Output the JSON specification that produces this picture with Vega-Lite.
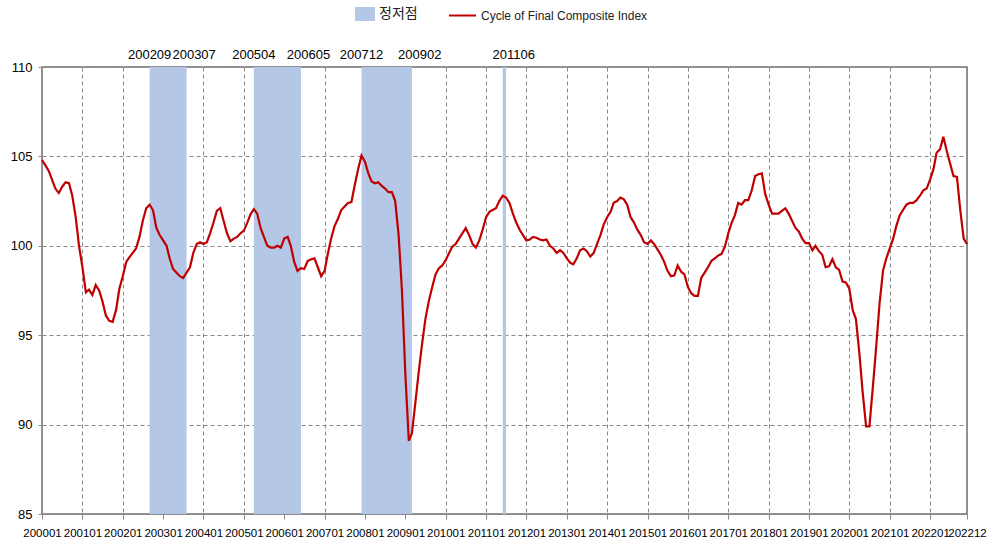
{
"$schema": "https://vega.github.io/schema/vega-lite/v6.json",
"width": 925, "height": 447,
"autosize": {"type": "none"},
"padding": {"left": 42, "top": 67, "right": 27, "bottom": 30},
"background": "white",
"config": {"view": {"stroke": "#707070", "strokeWidth": 1.5}, "font": "Liberation Sans"},
"datasets": {
"cycle": [
{"d":"2000-01-01","v":104.8},{"d":"2000-02-01","v":104.5},{"d":"2000-03-01","v":104.2},{"d":"2000-04-01","v":103.7},{"d":"2000-05-01","v":103.2},{"d":"2000-06-01","v":102.95},{"d":"2000-07-01","v":103.3},{"d":"2000-08-01","v":103.55},{"d":"2000-09-01","v":103.5},{"d":"2000-10-01","v":102.8},{"d":"2000-11-01","v":101.6},{"d":"2000-12-01","v":100.0},
{"d":"2001-01-01","v":98.8},{"d":"2001-02-01","v":97.4},{"d":"2001-03-01","v":97.55},{"d":"2001-04-01","v":97.25},{"d":"2001-05-01","v":97.8},{"d":"2001-06-01","v":97.5},{"d":"2001-07-01","v":96.9},{"d":"2001-08-01","v":96.1},{"d":"2001-09-01","v":95.8},{"d":"2001-10-01","v":95.75},{"d":"2001-11-01","v":96.4},{"d":"2001-12-01","v":97.6},
{"d":"2002-01-01","v":98.3},{"d":"2002-02-01","v":99.1},{"d":"2002-03-01","v":99.35},{"d":"2002-04-01","v":99.6},{"d":"2002-05-01","v":99.85},{"d":"2002-06-01","v":100.5},{"d":"2002-07-01","v":101.4},{"d":"2002-08-01","v":102.1},{"d":"2002-09-01","v":102.3},{"d":"2002-10-01","v":102.0},{"d":"2002-11-01","v":101.0},{"d":"2002-12-01","v":100.6},
{"d":"2003-01-01","v":100.3},{"d":"2003-02-01","v":100.0},{"d":"2003-03-01","v":99.3},{"d":"2003-04-01","v":98.7},{"d":"2003-05-01","v":98.5},{"d":"2003-06-01","v":98.3},{"d":"2003-07-01","v":98.2},{"d":"2003-08-01","v":98.5},{"d":"2003-09-01","v":98.8},{"d":"2003-10-01","v":99.6},{"d":"2003-11-01","v":100.1},{"d":"2003-12-01","v":100.2},
{"d":"2004-01-01","v":100.1},{"d":"2004-02-01","v":100.2},{"d":"2004-03-01","v":100.7},{"d":"2004-04-01","v":101.3},{"d":"2004-05-01","v":101.95},{"d":"2004-06-01","v":102.1},{"d":"2004-07-01","v":101.4},{"d":"2004-08-01","v":100.7},{"d":"2004-09-01","v":100.25},{"d":"2004-10-01","v":100.4},{"d":"2004-11-01","v":100.5},{"d":"2004-12-01","v":100.7},
{"d":"2005-01-01","v":100.85},{"d":"2005-02-01","v":101.3},{"d":"2005-03-01","v":101.75},{"d":"2005-04-01","v":102.05},{"d":"2005-05-01","v":101.8},{"d":"2005-06-01","v":101.0},{"d":"2005-07-01","v":100.5},{"d":"2005-08-01","v":100.0},{"d":"2005-09-01","v":99.9},{"d":"2005-10-01","v":99.9},{"d":"2005-11-01","v":100.0},{"d":"2005-12-01","v":99.9},
{"d":"2006-01-01","v":100.4},{"d":"2006-02-01","v":100.5},{"d":"2006-03-01","v":100.0},{"d":"2006-04-01","v":99.1},{"d":"2006-05-01","v":98.6},{"d":"2006-06-01","v":98.75},{"d":"2006-07-01","v":98.7},{"d":"2006-08-01","v":99.15},{"d":"2006-09-01","v":99.25},{"d":"2006-10-01","v":99.3},{"d":"2006-11-01","v":98.8},{"d":"2006-12-01","v":98.3},
{"d":"2007-01-01","v":98.6},{"d":"2007-02-01","v":99.6},{"d":"2007-03-01","v":100.4},{"d":"2007-04-01","v":101.1},{"d":"2007-05-01","v":101.5},{"d":"2007-06-01","v":102.0},{"d":"2007-07-01","v":102.2},{"d":"2007-08-01","v":102.4},{"d":"2007-09-01","v":102.45},{"d":"2007-10-01","v":103.4},{"d":"2007-11-01","v":104.3},{"d":"2007-12-01","v":105.05},
{"d":"2008-01-01","v":104.7},{"d":"2008-02-01","v":104.05},{"d":"2008-03-01","v":103.6},{"d":"2008-04-01","v":103.5},{"d":"2008-05-01","v":103.55},{"d":"2008-06-01","v":103.35},{"d":"2008-07-01","v":103.2},{"d":"2008-08-01","v":103.0},{"d":"2008-09-01","v":103.0},{"d":"2008-10-01","v":102.5},{"d":"2008-11-01","v":100.6},{"d":"2008-12-01","v":97.5},
{"d":"2009-01-01","v":92.8},{"d":"2009-02-01","v":89.1},{"d":"2009-03-01","v":89.5},{"d":"2009-04-01","v":91.2},{"d":"2009-05-01","v":92.9},{"d":"2009-06-01","v":94.5},{"d":"2009-07-01","v":95.9},{"d":"2009-08-01","v":96.9},{"d":"2009-09-01","v":97.7},{"d":"2009-10-01","v":98.4},{"d":"2009-11-01","v":98.75},{"d":"2009-12-01","v":98.9},
{"d":"2010-01-01","v":99.2},{"d":"2010-02-01","v":99.6},{"d":"2010-03-01","v":99.95},{"d":"2010-04-01","v":100.1},{"d":"2010-05-01","v":100.4},{"d":"2010-06-01","v":100.7},{"d":"2010-07-01","v":101.0},{"d":"2010-08-01","v":100.6},{"d":"2010-09-01","v":100.1},{"d":"2010-10-01","v":99.9},{"d":"2010-11-01","v":100.3},{"d":"2010-12-01","v":100.9},
{"d":"2011-01-01","v":101.6},{"d":"2011-02-01","v":101.9},{"d":"2011-03-01","v":102.0},{"d":"2011-04-01","v":102.1},{"d":"2011-05-01","v":102.5},{"d":"2011-06-01","v":102.8},{"d":"2011-07-01","v":102.7},{"d":"2011-08-01","v":102.4},{"d":"2011-09-01","v":101.8},{"d":"2011-10-01","v":101.3},{"d":"2011-11-01","v":100.9},{"d":"2011-12-01","v":100.6},
{"d":"2012-01-01","v":100.3},{"d":"2012-02-01","v":100.35},{"d":"2012-03-01","v":100.5},{"d":"2012-04-01","v":100.45},{"d":"2012-05-01","v":100.35},{"d":"2012-06-01","v":100.3},{"d":"2012-07-01","v":100.35},{"d":"2012-08-01","v":100.0},{"d":"2012-09-01","v":99.85},{"d":"2012-10-01","v":99.6},{"d":"2012-11-01","v":99.75},{"d":"2012-12-01","v":99.6},
{"d":"2013-01-01","v":99.3},{"d":"2013-02-01","v":99.05},{"d":"2013-03-01","v":98.97},{"d":"2013-04-01","v":99.3},{"d":"2013-05-01","v":99.75},{"d":"2013-06-01","v":99.85},{"d":"2013-07-01","v":99.7},{"d":"2013-08-01","v":99.4},{"d":"2013-09-01","v":99.6},{"d":"2013-10-01","v":100.1},{"d":"2013-11-01","v":100.6},{"d":"2013-12-01","v":101.2},
{"d":"2014-01-01","v":101.6},{"d":"2014-02-01","v":101.9},{"d":"2014-03-01","v":102.4},{"d":"2014-04-01","v":102.5},{"d":"2014-05-01","v":102.7},{"d":"2014-06-01","v":102.6},{"d":"2014-07-01","v":102.3},{"d":"2014-08-01","v":101.6},{"d":"2014-09-01","v":101.3},{"d":"2014-10-01","v":100.9},{"d":"2014-11-01","v":100.6},{"d":"2014-12-01","v":100.2},
{"d":"2015-01-01","v":100.1},{"d":"2015-02-01","v":100.3},{"d":"2015-03-01","v":100.1},{"d":"2015-04-01","v":99.8},{"d":"2015-05-01","v":99.5},{"d":"2015-06-01","v":99.1},{"d":"2015-07-01","v":98.6},{"d":"2015-08-01","v":98.3},{"d":"2015-09-01","v":98.35},{"d":"2015-10-01","v":98.9},{"d":"2015-11-01","v":98.55},{"d":"2015-12-01","v":98.4},
{"d":"2016-01-01","v":97.7},{"d":"2016-02-01","v":97.35},{"d":"2016-03-01","v":97.2},{"d":"2016-04-01","v":97.2},{"d":"2016-05-01","v":98.2},{"d":"2016-06-01","v":98.5},{"d":"2016-07-01","v":98.8},{"d":"2016-08-01","v":99.15},{"d":"2016-09-01","v":99.3},{"d":"2016-10-01","v":99.45},{"d":"2016-11-01","v":99.55},{"d":"2016-12-01","v":99.95},
{"d":"2017-01-01","v":100.7},{"d":"2017-02-01","v":101.3},{"d":"2017-03-01","v":101.7},{"d":"2017-04-01","v":102.4},{"d":"2017-05-01","v":102.3},{"d":"2017-06-01","v":102.55},{"d":"2017-07-01","v":102.55},{"d":"2017-08-01","v":103.1},{"d":"2017-09-01","v":103.9},{"d":"2017-10-01","v":104.0},{"d":"2017-11-01","v":104.05},{"d":"2017-12-01","v":102.9},
{"d":"2018-01-01","v":102.3},{"d":"2018-02-01","v":101.8},{"d":"2018-03-01","v":101.8},{"d":"2018-04-01","v":101.8},{"d":"2018-05-01","v":101.95},{"d":"2018-06-01","v":102.1},{"d":"2018-07-01","v":101.8},{"d":"2018-08-01","v":101.4},{"d":"2018-09-01","v":101.0},{"d":"2018-10-01","v":100.8},{"d":"2018-11-01","v":100.4},{"d":"2018-12-01","v":100.15},
{"d":"2019-01-01","v":100.15},{"d":"2019-02-01","v":99.75},{"d":"2019-03-01","v":100.0},{"d":"2019-04-01","v":99.7},{"d":"2019-05-01","v":99.5},{"d":"2019-06-01","v":98.8},{"d":"2019-07-01","v":98.85},{"d":"2019-08-01","v":99.25},{"d":"2019-09-01","v":98.8},{"d":"2019-10-01","v":98.65},{"d":"2019-11-01","v":98.0},{"d":"2019-12-01","v":97.95},
{"d":"2020-01-01","v":97.6},{"d":"2020-02-01","v":96.4},{"d":"2020-03-01","v":95.9},{"d":"2020-04-01","v":94.0},{"d":"2020-05-01","v":91.8},{"d":"2020-06-01","v":89.9},{"d":"2020-07-01","v":89.9},{"d":"2020-08-01","v":92.1},{"d":"2020-09-01","v":94.4},{"d":"2020-10-01","v":96.8},{"d":"2020-11-01","v":98.6},{"d":"2020-12-01","v":99.3},
{"d":"2021-01-01","v":99.85},{"d":"2021-02-01","v":100.4},{"d":"2021-03-01","v":101.1},{"d":"2021-04-01","v":101.7},{"d":"2021-05-01","v":102.0},{"d":"2021-06-01","v":102.3},{"d":"2021-07-01","v":102.4},{"d":"2021-08-01","v":102.4},{"d":"2021-09-01","v":102.55},{"d":"2021-10-01","v":102.8},{"d":"2021-11-01","v":103.1},{"d":"2021-12-01","v":103.2},
{"d":"2022-01-01","v":103.7},{"d":"2022-02-01","v":104.3},{"d":"2022-03-01","v":105.2},{"d":"2022-04-01","v":105.4},{"d":"2022-05-01","v":106.1},{"d":"2022-06-01","v":105.3},{"d":"2022-07-01","v":104.6},{"d":"2022-08-01","v":103.9},{"d":"2022-09-01","v":103.85},{"d":"2022-10-01","v":102.0},{"d":"2022-11-01","v":100.4},{"d":"2022-12-01","v":100.1}
],
"bands": [
{"s":"2002-09-01","e":"2003-08-01"},
{"s":"2005-04-01","e":"2006-06-01"},
{"s":"2007-12-01","e":"2009-03-01"},
{"s":"2011-06-01","e":"2011-07-01"}
],
"labels": [
{"d":"2002-09-01","t":"200209","k":"peak"},
{"d":"2003-07-01","t":"200307","k":"trough"},
{"d":"2005-04-01","t":"200504","k":"peak"},
{"d":"2006-05-01","t":"200605","k":"trough"},
{"d":"2007-12-01","t":"200712","k":"peak"},
{"d":"2009-02-01","t":"200902","k":"trough"},
{"d":"2011-06-01","t":"201106","k":"trough"}
]
},
"layer": [
{
"data": {"name": "bands"},
"mark": {"type": "rect"},
"encoding": {
"x": {"field": "s", "type": "temporal",
"scale": {"type": "utc", "nice": false, "domain": [{"year":2000,"month":1,"date":1,"utc":true},{"year":2022,"month":12,"date":1,"utc":true}]},
"axis": {"title": null,
"values": [{"year":2000,"month":1,"date":1,"utc":true},{"year":2001,"month":1,"date":1,"utc":true},{"year":2002,"month":1,"date":1,"utc":true},{"year":2003,"month":1,"date":1,"utc":true},{"year":2004,"month":1,"date":1,"utc":true},{"year":2005,"month":1,"date":1,"utc":true},{"year":2006,"month":1,"date":1,"utc":true},{"year":2007,"month":1,"date":1,"utc":true},{"year":2008,"month":1,"date":1,"utc":true},{"year":2009,"month":1,"date":1,"utc":true},{"year":2010,"month":1,"date":1,"utc":true},{"year":2011,"month":1,"date":1,"utc":true},{"year":2012,"month":1,"date":1,"utc":true},{"year":2013,"month":1,"date":1,"utc":true},{"year":2014,"month":1,"date":1,"utc":true},{"year":2015,"month":1,"date":1,"utc":true},{"year":2016,"month":1,"date":1,"utc":true},{"year":2017,"month":1,"date":1,"utc":true},{"year":2018,"month":1,"date":1,"utc":true},{"year":2019,"month":1,"date":1,"utc":true},{"year":2020,"month":1,"date":1,"utc":true},{"year":2021,"month":1,"date":1,"utc":true},{"year":2022,"month":1,"date":1,"utc":true},{"year":2022,"month":12,"date":1,"utc":true}],
"labelExpr": "utcFormat(datum.value, '%Y%m')",
"labelOverlap": false, "labelFlush": false,
"labelFontSize": 11.5, "labelColor": "#000000", "labelPadding": 8,
"grid": true, "gridDash": [4, 3], "gridColor": "#8a8a8a", "gridWidth": 1,
"domainColor": "#8a8a8a", "tickColor": "#8a8a8a", "tickSize": 5}},
"x2": {"field": "e"},
"fill": {"datum": "정저점", "type": "nominal",
"scale": {"range": ["#b4c7e7"]},
"legend": {"title": null, "orient": "none", "legendX": 313, "legendY": -63, "padding": 0,
"symbolType": "M-1,-0.7H1V0.7H-1Z", "symbolSize": 400, "symbolStrokeWidth": 0, "symbolOpacity": 1,
"labelFont": "Noto Sans CJK KR", "labelFontSize": 14, "labelColor": "#222222", "labelOffset": 4}}
}
},
{
"data": {"name": "cycle"},
"mark": {"type": "line", "strokeWidth": 2.2},
"encoding": {
"x": {"field": "d", "type": "temporal"},
"y": {"field": "v", "type": "quantitative",
"scale": {"domain": [85, 110], "nice": false, "zero": false},
"axis": {"title": null, "values": [85, 90, 95, 100, 105, 110],
"labelFontSize": 13, "labelColor": "#000000", "labelPadding": 6,
"grid": true, "gridDash": [4, 3], "gridColor": "#8a8a8a",
"domainColor": "#8a8a8a", "tickColor": "#8a8a8a", "tickSize": 4}},
"stroke": {"datum": "Cycle of Final Composite Index", "type": "nominal",
"scale": {"range": ["#c00000"]},
"legend": {"title": null, "orient": "none", "legendX": 406, "legendY": -66, "padding": 0,
"symbolType": "stroke", "symbolSize": 729, "symbolStrokeWidth": 2,
"labelFontSize": 12, "labelLimit": 0, "labelColor": "#222222", "labelOffset": 4}}
}
},
{
"data": {"name": "labels"},
"transform": [{"filter": "datum.k === 'peak'"}],
"mark": {"type": "text", "baseline": "bottom", "align": "center", "fontSize": 13, "dy": -5, "color": "#000000"},
"encoding": {
"x": {"field": "d", "type": "temporal"},
"y": {"datum": 110},
"text": {"field": "t"}
}
},
{
"data": {"name": "labels"},
"transform": [{"filter": "datum.k === 'trough'"}],
"mark": {"type": "text", "baseline": "bottom", "align": "center", "fontSize": 13, "dy": -5, "dx": 11, "color": "#000000"},
"encoding": {
"x": {"field": "d", "type": "temporal"},
"y": {"datum": 110},
"text": {"field": "t"}
}
}
]
}
